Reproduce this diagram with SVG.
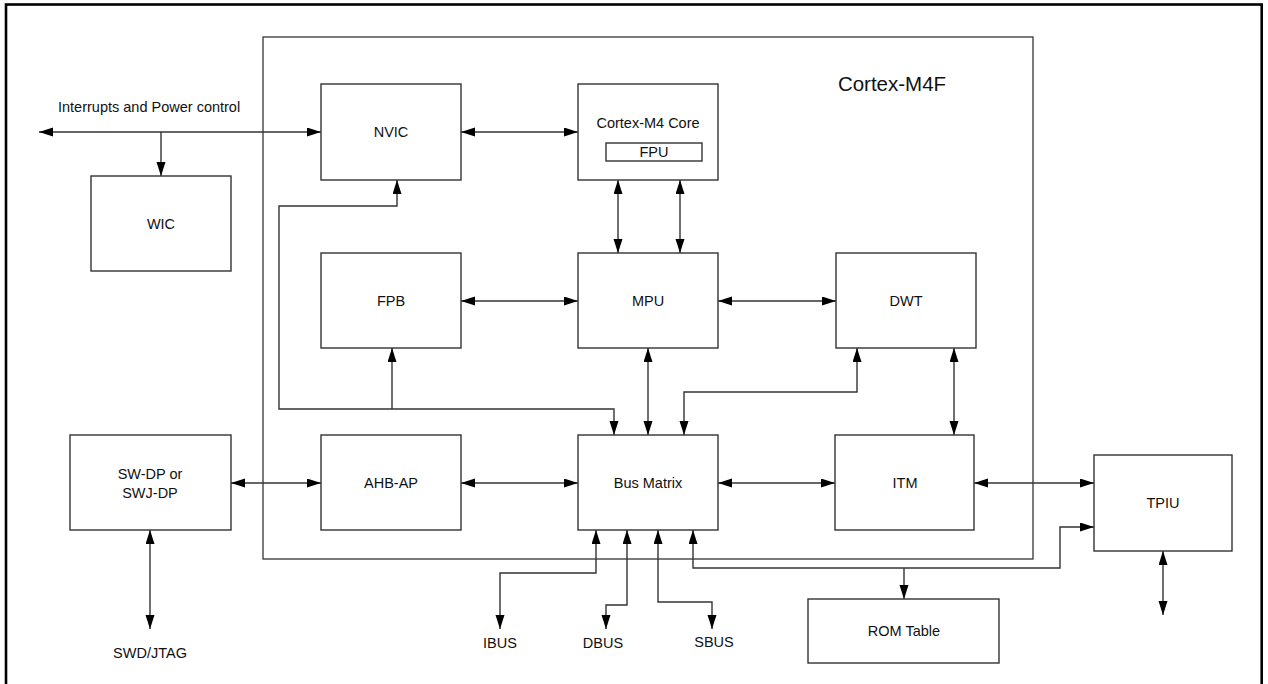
<svg xmlns="http://www.w3.org/2000/svg" width="1268" height="684" viewBox="0 0 1268 684">
  <defs>
    <marker id="arr" markerUnits="userSpaceOnUse" markerWidth="15" markerHeight="10" refX="14" refY="4.5" orient="auto-start-reverse">
      <path d="M0,0 L14,4.5 L0,9 z" fill="#000"/>
    </marker>
    <style>
      .box { fill: #fff; stroke: #333; stroke-width: 1.4; }
      .frame { fill: none; stroke: #444; stroke-width: 1.4; }
      .c { fill: none; stroke: #333; stroke-width: 1.4; }
      .b { marker-start: url(#arr); marker-end: url(#arr); }
      .e { marker-end: url(#arr); }
      text { font-family: "Liberation Sans", Arial, sans-serif; font-size: 14.5px; fill: #111; text-anchor: middle; }
    </style>
  </defs>
  <rect x="0" y="0" width="1268" height="684" fill="#fff"/>
  <rect x="6" y="4.5" width="1255.7" height="700" fill="none" stroke="#000" stroke-width="2.6"/>

  <g id="cortex-m4f">
    <rect class="frame" x="263" y="37" width="770" height="522"/>
    <text x="892" y="91" style="font-size:20.5px">Cortex-M4F</text>
  </g>

  <g id="connectors">
    <line class="c b" x1="39" y1="132" x2="321" y2="132"/>
    <line class="c e" x1="161" y1="132" x2="161" y2="176"/>
    <line class="c b" x1="461" y1="132" x2="578" y2="132"/>
    <line class="c b" x1="618" y1="180" x2="618" y2="253"/>
    <line class="c b" x1="680" y1="180" x2="680" y2="253"/>
    <line class="c b" x1="461" y1="301" x2="578" y2="301"/>
    <line class="c b" x1="718" y1="301" x2="836" y2="301"/>
    <path class="c b" d="M614,435 L614,409 L279,409 L279,206 L397,206 L397,180"/>
    <line class="c e" x1="392" y1="409" x2="392" y2="348"/>
    <line class="c b" x1="648" y1="348" x2="648" y2="435"/>
    <path class="c b" d="M857,348 L857,392 L684,392 L684,435"/>
    <line class="c b" x1="954" y1="348" x2="954" y2="435"/>
    <line class="c b" x1="231" y1="483" x2="321" y2="483"/>
    <line class="c b" x1="461" y1="483" x2="578" y2="483"/>
    <line class="c b" x1="718" y1="483" x2="835" y2="483"/>
    <line class="c b" x1="974" y1="483" x2="1094" y2="483"/>
    <line class="c b" x1="150" y1="530" x2="150" y2="629"/>
    <path class="c b" d="M596,530 L596,573 L500,573 L500,629"/>
    <path class="c b" d="M627,530 L627,605 L606,605 L606,629"/>
    <path class="c b" d="M658,530 L658,602 L712,602 L712,629"/>
    <path class="c b" d="M693,530 L693,568 L1060,568 L1060,527 L1094,527"/>
    <line class="c e" x1="904" y1="568" x2="904" y2="599"/>
    <line class="c b" x1="1163" y1="551" x2="1163" y2="615"/>
    <text x="58" y="112" style="text-anchor:start">Interrupts and Power control</text>
    <text x="500" y="648">IBUS</text>
    <text x="603" y="648">DBUS</text>
    <text x="714" y="647">SBUS</text>
    <text x="150" y="658">SWD/JTAG</text>
  </g>

  <g id="nvic">
    <rect class="box" x="321" y="84" width="140" height="96"/>
    <text x="391" y="137">NVIC</text>
  </g>
  <g id="core">
    <rect class="box" x="578" y="84" width="140" height="96"/>
    <text x="648" y="128">Cortex-M4 Core</text>
    <rect class="box" x="606" y="143" width="96" height="18"/>
    <text x="654" y="157">FPU</text>
  </g>
  <g id="wic">
    <rect class="box" x="91" y="176" width="140" height="95"/>
    <text x="161" y="229">WIC</text>
  </g>
  <g id="fpb">
    <rect class="box" x="321" y="253" width="140" height="95"/>
    <text x="391" y="306">FPB</text>
  </g>
  <g id="mpu">
    <rect class="box" x="578" y="253" width="140" height="95"/>
    <text x="648" y="306">MPU</text>
  </g>
  <g id="dwt">
    <rect class="box" x="836" y="253" width="140" height="95"/>
    <text x="906" y="306">DWT</text>
  </g>
  <g id="swdp">
    <rect class="box" x="70" y="435" width="161" height="95"/>
    <text x="150" y="479">SW-DP or</text>
    <text x="150" y="498">SWJ-DP</text>
  </g>
  <g id="ahbap">
    <rect class="box" x="321" y="435" width="140" height="95"/>
    <text x="391" y="488">AHB-AP</text>
  </g>
  <g id="busmatrix">
    <rect class="box" x="578" y="435" width="140" height="95"/>
    <text x="648" y="488">Bus Matrix</text>
  </g>
  <g id="itm">
    <rect class="box" x="835" y="435" width="139" height="95"/>
    <text x="905" y="488">ITM</text>
  </g>
  <g id="tpiu">
    <rect class="box" x="1094" y="455" width="138" height="96"/>
    <text x="1163" y="508">TPIU</text>
  </g>
  <g id="romtable">
    <rect class="box" x="808" y="599" width="191" height="64"/>
    <text x="904" y="636">ROM Table</text>
  </g>
</svg>
